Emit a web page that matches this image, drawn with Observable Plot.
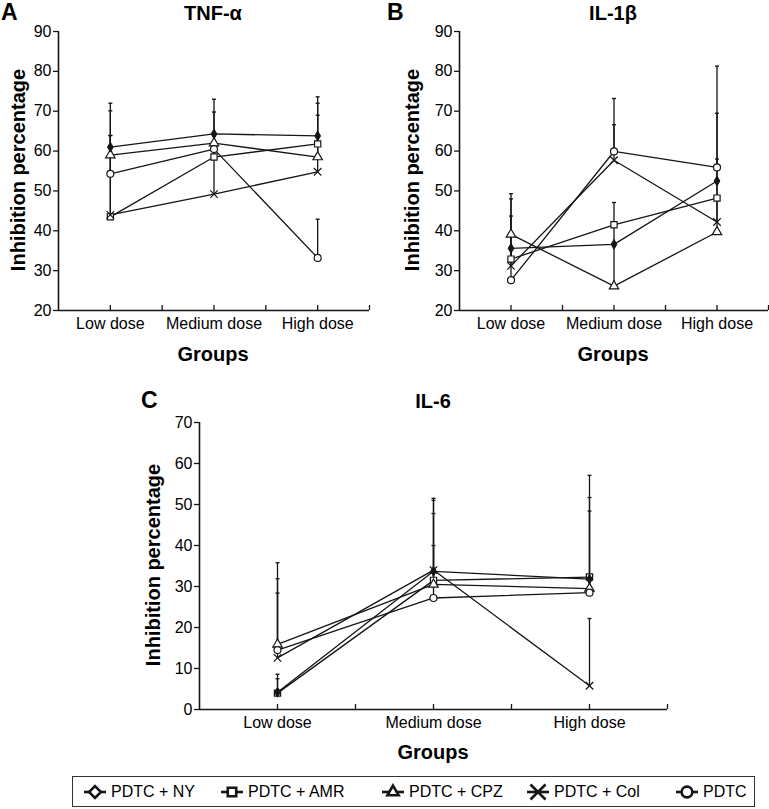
<!DOCTYPE html>
<html>
<head>
<meta charset="utf-8">
<script src="https://cdn.jsdelivr.net/npm/d3@7"></script>
<script src="https://cdn.jsdelivr.net/npm/@observablehq/plot@0.6"></script>
<style>
  body { margin: 0; background: #fff; }
  #root { position: relative; width: 769px; height: 809px; overflow: hidden; font-family: "Liberation Sans", Arial, sans-serif; color: #000; }
  .legend { position: absolute; border: 1.5px solid #333; box-sizing: border-box; }
  .legend .item { position: absolute; top: 0; height: 100%; display: flex; align-items: center; font-size: 16px; white-space: nowrap; }
  .legend .item svg { margin-right: 3px; }
</style>
</head>
<body>
<div id="root"></div>
<script>
// ---------- categories / series ----------
const groups = ["Low dose", "Medium dose", "High dose"];
const seriesNames = ["PDTC + NY", "PDTC + AMR", "PDTC + CPZ", "PDTC + Col", "PDTC"];
const seriesSymbols = ["diamond", "square", "triangle", "times", "circle"];

// ---------- Panel A: TNF-α (mean, upper end of error bar) ----------
const tnfNY = [61.0, 64.3, 63.8];
const tnfAMR = [43.5, 58.5, 61.8];
const tnfCPZ = [59.0, 62.0, 58.5];
const tnfCol = [44.0, 49.2, 54.8];
const tnfPDTC = [54.3, 60.5, 33.2];
const tnfNYUp = [72.0, 73.0, 73.6];
const tnfAMRUp = [63.9, 64.3, 72.0];
const tnfCPZUp = [70.1, 69.8, 69.0];
const tnfColUp = [63.9, 58.5, 63.8];
const tnfPDTCUp = [61.0, 64.3, 42.9];

// ---------- Panel B: IL-1β ----------
const il1NY = [35.6, 36.6, 52.5];
const il1AMR = [32.9, 41.5, 48.2];
const il1CPZ = [39.1, 26.1, 39.7];
const il1Col = [31.2, 57.7, 42.2];
const il1PDTC = [27.6, 59.9, 55.9];
const il1NYUp = [48.0, 41.5, 69.5];
const il1AMRUp = [43.7, 47.1, 58.0];
const il1CPZUp = [49.3, 36.6, 48.2];
const il1ColUp = [39.1, 66.6, 52.5];
const il1PDTCUp = [35.6, 73.2, 81.3];

// ---------- Panel C: IL-6 ----------
const il6NY = [4.2, 33.7, 31.8];
const il6AMR = [4.0, 31.5, 32.3];
const il6CPZ = [15.9, 30.5, 29.5];
const il6Col = [12.6, 34.0, 5.8];
const il6PDTC = [14.5, 27.2, 28.5];
const il6NYUp = [8.6, 51.0, 51.7];
const il6AMRUp = [7.5, 47.8, 57.1];
const il6CPZUp = [35.8, 40.0, 48.4];
const il6ColUp = [28.4, 51.5, 22.2];
const il6PDTCUp = [31.9, 34.0, 32.0];

// ---------- axis ticks ----------
const ticksAB = [20, 30, 40, 50, 60, 70, 80, 90];
const ticksC = [0, 10, 20, 30, 40, 50, 60, 70];

const ink = "#151515";
const root = d3.select("#root");

// a short horizontal cap for the error bars
const capSymbol = {
  draw(context, size) {
    const w = Math.sqrt(size / Math.PI);
    context.moveTo(-w, 0);
    context.lineTo(w, 0);
  }
};

function addPanel(cfg) {
  const rows = [];
  cfg.means.forEach((m, si) => m.forEach((v, gi) => rows.push({
    series: seriesNames[si], gi, value: v, upper: cfg.uppers[si][gi]
  })));
  const y0 = cfg.ticks[0], y1 = cfg.ticks[cfg.ticks.length - 1];
  const plotH = cfg.height - cfg.marginTop - cfg.marginBottom;
  const tickLen = (y1 - y0) * 5 / plotH;
  const xTicks = d3.range(0, groups.length - 0.5 + 1e-9, 0.5);
  const chart = Plot.plot({
    width: cfg.width,
    height: cfg.height,
    marginLeft: cfg.marginLeft,
    marginRight: cfg.marginRight,
    marginTop: cfg.marginTop,
    marginBottom: cfg.marginBottom,
    style: { fontFamily: "'Liberation Sans', Arial, sans-serif", fontSize: "16px", background: "transparent", color: "#000", overflow: "visible" },
    x: { domain: [-0.5, groups.length - 0.5] },
    y: { domain: [y0, y1] },
    symbol: { domain: seriesNames, range: seriesSymbols },
    marks: [
      Plot.axisY({ ticks: cfg.ticks, tickSize: 5, tickPadding: 2, label: null, stroke: ink, strokeWidth: 1.3 }),
      Plot.axisX({ ticks: d3.range(groups.length), tickFormat: i => groups[i], tickSize: 0, tickPadding: 7, label: null }),
      Plot.ruleX(xTicks, { x: d => d, y1: () => y0, y2: () => y0 + tickLen, stroke: ink, strokeWidth: 1.3 }),
      Plot.ruleX([-0.5], { stroke: ink, strokeWidth: 1.6 }),
      Plot.ruleY([y0], { stroke: ink, strokeWidth: 1.6 }),
      Plot.ruleX(rows, { x: "gi", y1: "value", y2: "upper", stroke: ink, strokeWidth: 1.3 }),
      Plot.dot(rows, { x: "gi", y: "upper", symbol: capSymbol, r: 2, stroke: ink, strokeWidth: 1.3, fill: "none" }),
      Plot.line(rows, { x: "gi", y: "value", z: "series", stroke: ink, strokeWidth: 1.3 }),
      Plot.dot(rows.filter(d => d.series !== seriesNames[0]), { x: "gi", y: "value", symbol: "series", r: 3.5, fill: "white", stroke: ink, strokeWidth: 1.2 }),
      Plot.dot(rows.filter(d => d.series === seriesNames[0]), { x: "gi", y: "value", symbol: "series", r: 3, fill: ink, stroke: ink, strokeWidth: 1 })
    ]
  });
  root.append("div")
    .style("position", "absolute")
    .style("left", cfg.left + "px")
    .style("top", cfg.top + "px")
    .node().appendChild(chart);
}

addPanel({
  left: 0, top: 0, width: 385, height: 340,
  marginLeft: 58, marginRight: 16, marginTop: 31, marginBottom: 30,
  ticks: ticksAB,
  means: [tnfNY, tnfAMR, tnfCPZ, tnfCol, tnfPDTC],
  uppers: [tnfNYUp, tnfAMRUp, tnfCPZUp, tnfColUp, tnfPDTCUp]
});
addPanel({
  left: 385, top: 0, width: 384, height: 340,
  marginLeft: 74, marginRight: 1, marginTop: 31, marginBottom: 30,
  ticks: ticksAB,
  means: [il1NY, il1AMR, il1CPZ, il1Col, il1PDTC],
  uppers: [il1NYUp, il1AMRUp, il1CPZUp, il1ColUp, il1PDTCUp]
});
addPanel({
  left: 130, top: 400, width: 560, height: 340,
  marginLeft: 69, marginRight: 23, marginTop: 22, marginBottom: 31,
  ticks: ticksC,
  means: [il6NY, il6AMR, il6CPZ, il6Col, il6PDTC],
  uppers: [il6NYUp, il6AMRUp, il6CPZUp, il6ColUp, il6PDTCUp]
});

// ---------- titles and axis titles ----------
const overlay = root.append("svg")
  .attr("width", 769).attr("height", 809)
  .style("position", "absolute").style("left", 0).style("top", 0)
  .style("pointer-events", "none")
  .style("font-family", "'Liberation Sans', Arial, sans-serif");

const texts = [
  { t: "A", x: 1, y: 20, a: "start", s: 23 },
  { t: "TNF-α", x: 213, y: 20, a: "middle", s: 20 },
  { t: "B", x: 387, y: 20, a: "start", s: 23 },
  { t: "IL-1β", x: 613, y: 20, a: "middle", s: 20 },
  { t: "C", x: 141, y: 408, a: "start", s: 23 },
  { t: "IL-6", x: 433, y: 408, a: "middle", s: 20 },
  { t: "Groups", x: 213, y: 361, a: "middle", s: 20 },
  { t: "Groups", x: 613, y: 361, a: "middle", s: 20 },
  { t: "Groups", x: 433, y: 759, a: "middle", s: 20 }
];
overlay.selectAll("text.t").data(texts).join("text")
  .attr("class", "t")
  .attr("x", d => d.x).attr("y", d => d.y)
  .attr("text-anchor", d => d.a)
  .attr("font-size", d => d.s)
  .attr("font-weight", "bold")
  .text(d => d.t);

const ylabs = [{ x: 18, y: 170 }, { x: 412, y: 170 }, { x: 153, y: 565 }];
overlay.selectAll("text.yl").data(ylabs).join("text")
  .attr("class", "yl")
  .attr("transform", d => `translate(${d.x},${d.y}) rotate(-90)`)
  .attr("text-anchor", "middle")
  .attr("dominant-baseline", "central")
  .attr("font-size", 20)
  .attr("font-weight", "bold")
  .text("Inhibition percentage");

// ---------- legend ----------
const legend = root.append("div").attr("class", "legend")
  .style("left", "72px").style("top", "776px").style("width", "683px").style("height", "31px");
const itemLeft = [9, 146, 307, 452, 601];
seriesNames.forEach((name, i) => {
  const item = legend.append("div").attr("class", "item").style("left", itemLeft[i] + "px");
  const svg = item.append("svg").attr("width", 26).attr("height", 18);
  svg.append("line").attr("x1", 2).attr("x2", 24).attr("y1", 9).attr("y2", 9)
    .attr("stroke", ink).attr("stroke-width", 2.6);
  const sym = { diamond: d3.symbolDiamond2, square: d3.symbolSquare2, triangle: d3.symbolTriangle2, times: d3.symbolTimes, circle: d3.symbolCircle }[seriesSymbols[i]];
  svg.append("path")
    .attr("transform", "translate(13,9)")
    .attr("d", d3.symbol(sym, seriesSymbols[i] === "times" ? 150 : 90)())
    .attr("fill", "white").attr("stroke", ink).attr("stroke-width", 2.6);
  item.append("span").text(name);
});
</script>
</body>
</html>
